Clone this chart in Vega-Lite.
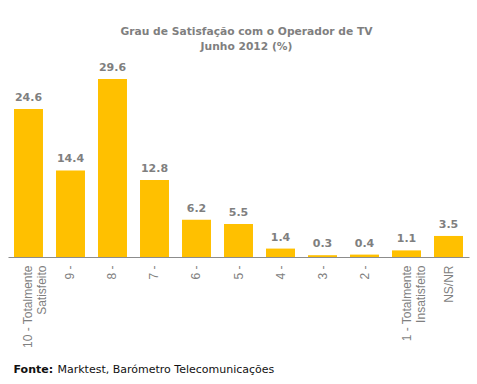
{
  "$schema": "https://vega.github.io/schema/vega-lite/v6.json",
  "autosize": "none",
  "padding": {"left": 8, "top": 57, "right": 8, "bottom": 127},
  "width": 461,
  "height": 200,
  "background": "white",
  "title": {
    "text": ["Grau de Satisfação com o Operador de TV", "Junho 2012 (%)"],
    "font": "DejaVu Sans",
    "fontSize": 10.7,
    "fontWeight": "bold",
    "color": "#7f7f7f",
    "anchor": "middle",
    "dx": 8,
    "offset": 4,
    "lineHeight": 15
  },
  "data": {
    "values": [
      {"cat": "10 - Totalmente|Satisfeito", "v": 24.6},
      {"cat": "9 -", "v": 14.4},
      {"cat": "8 -", "v": 29.6},
      {"cat": "7 -", "v": 12.8},
      {"cat": "6 -", "v": 6.2},
      {"cat": "5 -", "v": 5.5},
      {"cat": "4 -", "v": 1.4},
      {"cat": "3 -", "v": 0.3},
      {"cat": "2 -", "v": 0.4},
      {"cat": "1 - Totalmente|Insatisfeito", "v": 1.1},
      {"cat": "NS/NR", "v": 3.5}
    ]
  },
  "encoding": {
    "x": {
      "field": "cat",
      "type": "nominal",
      "sort": null,
      "scale": {"paddingInner": 0.31, "paddingOuter": 0.143},
      "axis": {
        "title": "Marktest, Barómetro Telecomunicações",
        "titleFont": "DejaVu Sans",
        "titleFontSize": 11,
        "titleFontWeight": "normal",
        "titleColor": "#111111",
        "titleX": 49,
        "titleY": 115,
        "titleAlign": "left",
        "titleBaseline": "alphabetic",
        "titleAnchor": "start",
        "labelAngle": 270,
        "labelAlign": "right",
        "labelBaseline": "middle",
        "labelExpr": "split(datum.label, '|')",
        "labelLineHeight": 14,
        "labelFont": "Liberation Sans",
        "labelFontSize": 12,
        "labelColor": "#7f7f7f",
        "labelPadding": 8,
        "labelOverlap": false,
        "labelLimit": 200,
        "ticks": false,
        "domainColor": "#8c8c8c",
        "domainWidth": 1
      }
    },
    "y": {
      "field": "v",
      "type": "quantitative",
      "scale": {"domain": [0, 33.26], "nice": false},
      "axis": {
        "title": "Fonte:",
        "titleFont": "DejaVu Sans",
        "titleFontSize": 11,
        "titleFontWeight": "bold",
        "titleColor": "#111111",
        "titleAngle": 0,
        "titleX": 5,
        "titleY": 315,
        "titleAlign": "left",
        "titleBaseline": "alphabetic",
        "labels": false,
        "ticks": false,
        "domain": false,
        "grid": false
      }
    }
  },
  "layer": [
    {"mark": {"type": "bar", "color": "#FFC000"}},
    {
      "mark": {
        "type": "text",
        "baseline": "alphabetic",
        "dy": -8,
        "font": "DejaVu Sans",
        "fontSize": 11,
        "fontWeight": "bold",
        "color": "#7f7f7f"
      },
      "encoding": {"text": {"field": "v", "type": "quantitative", "format": ".1f"}}
    }
  ],
  "config": {"view": {"stroke": null}}
}
